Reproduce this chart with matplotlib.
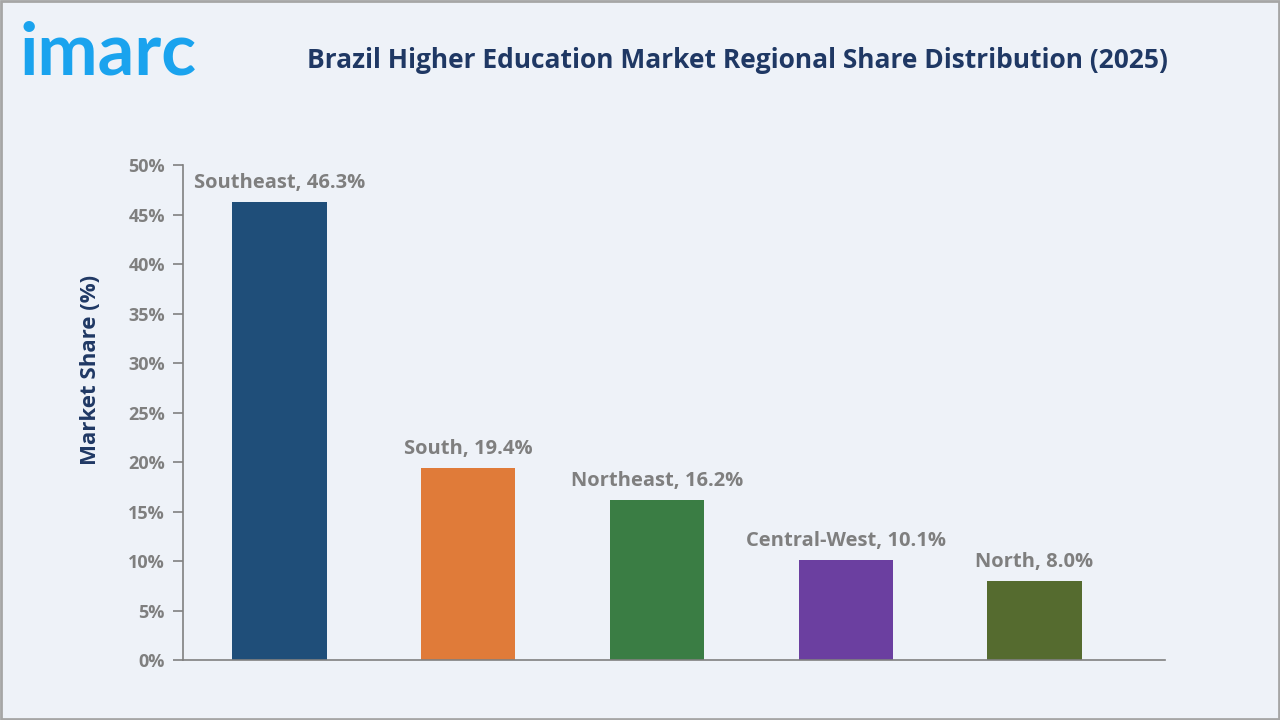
import matplotlib
matplotlib.use("Agg")
import matplotlib.pyplot as plt
from matplotlib.patches import Rectangle

# data
regions = ["Southeast", "South", "Northeast", "Central-West", "North"]
shares = [46.3, 19.4, 16.2, 10.1, 8.0]
bar_colors = ["#1F4E79", "#E07B39", "#3A7D44", "#6B3FA0", "#556B2F"]
y_ticks = [0, 5, 10, 15, 20, 25, 30, 35, 40, 45, 50]

title = "Brazil Higher Education Market Regional Share Distribution (2025)"
bg = "#EEF2F8"
grey = "#7F7F7F"
navy = "#1F3864"

plt.rcParams["font.family"] = ["Open Sans", "DejaVu Sans"]

fig = plt.figure(figsize=(12.8, 7.2), dpi=100, facecolor=bg)
ax = fig.add_axes([0.143, 0.0833, 0.767, 0.6875], facecolor=bg)

x = list(range(len(regions)))
ax.bar(x, shares, width=0.5, color=bar_colors, zorder=2)

for xi, name, val in zip(x, regions, shares):
    ax.text(xi, val + 0.9, f"{name}, {val:.1f}%", ha="center", va="bottom",
            fontsize=14.5, fontweight="bold", color=grey)

ax.set_xlim(-0.51, 4.69)
ax.set_ylim(0, 50)
ax.set_yticks(y_ticks)
ax.set_yticklabels([f"{t}%" for t in y_ticks])
ax.set_xticks([])

for side in ["top", "right"]:
    ax.spines[side].set_visible(False)
for side in ["left", "bottom"]:
    ax.spines[side].set_color("#808080")
    ax.spines[side].set_linewidth(1.2)

ax.tick_params(axis="y", direction="out", length=7, width=1.2, color="#808080",
               labelcolor=grey, labelsize=13, pad=6)
for lbl in ax.get_yticklabels():
    lbl.set_fontweight("bold")

ax.set_ylabel("Market Share (%)", fontsize=16, fontweight="bold", color=navy)
ax.yaxis.set_label_coords(-0.084, 0.587)

fig.text(0.576, 0.916, title, ha="center", va="center", fontsize=19,
         fontweight="bold", color=navy)

# logo
fig.text(0.015, 0.896, "imarc", ha="left", va="baseline", fontsize=52,
         fontweight="bold", color="#1AA3EE", family=["Lato", "DejaVu Sans"])

# border
fig.patches.append(Rectangle((0.001, 0.001), 0.998, 0.997, transform=fig.transFigure,
                             fill=False, edgecolor="#A6A6A6", linewidth=2))

fig.savefig("out.png", dpi=100, facecolor=bg)
